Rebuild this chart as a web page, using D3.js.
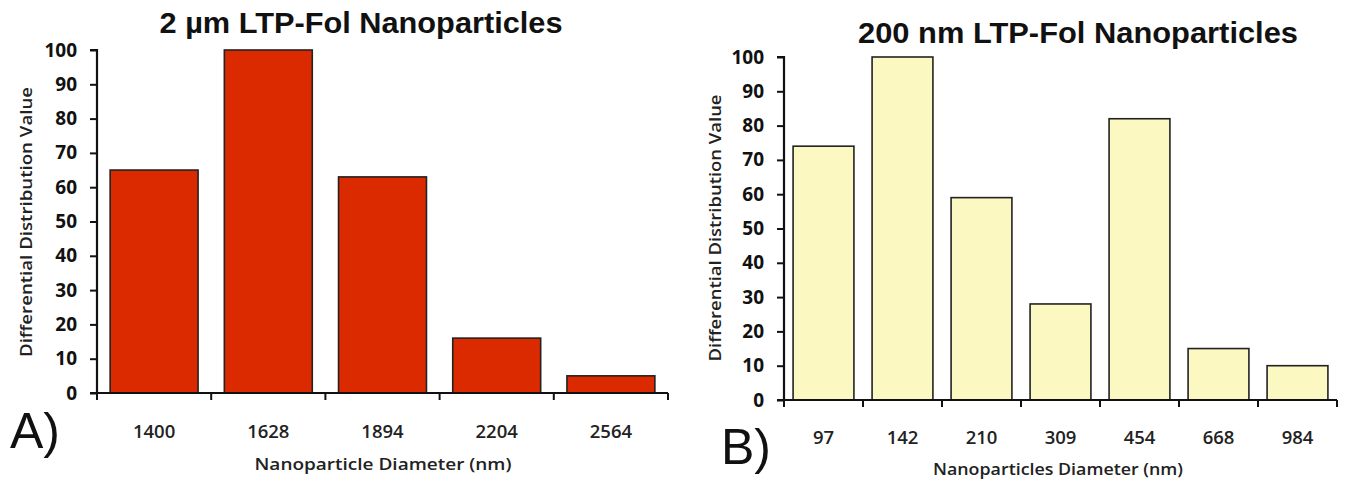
<!DOCTYPE html>
<html><head><meta charset="utf-8">
<script src="https://cdn.jsdelivr.net/npm/d3@7"></script>
<style>
body{margin:0;background:#fff;}
svg{display:block;}
.title{font-family:"Liberation Sans",Arial,sans-serif;font-weight:bold;fill:#111;}
.ytick{font-family:"Open Sans",sans-serif;font-weight:700;fill:#111;}
.xtick{font-family:"Open Sans",sans-serif;font-weight:600;fill:#222;}
.atitle{font-family:"Open Sans",sans-serif;font-weight:600;fill:#222;}
.panel{font-family:"Liberation Sans",Arial,sans-serif;fill:#111;}
</style></head>
<body>
<script>
// Panel A data
const catsA = ["1400","1628","1894","2204","2564"];
const valsA = [65,100,63,16,5];
// Panel B data
const catsB = ["97","142","210","309","454","668","984"];
const valsB = [74,100,59,28,82,15,10];
const yTicks = [0,10,20,30,40,50,60,70,80,90,100];

const titleA = "2 µm LTP-Fol Nanoparticles";
const titleB = "200 nm LTP-Fol Nanoparticles";
const xTitleA = "Nanoparticle Diameter (nm)";
const xTitleB = "Nanoparticles Diameter (nm)";
const yTitle = "Differential Distribution Value";

const svg = d3.select("body").append("svg").attr("width",1349).attr("height",483);

function panel(cfg){
  const g = svg.append("g");
  const x = d3.scaleBand().domain(cfg.cats).range([cfg.x0,cfg.x1]).paddingInner(0.23).paddingOuter(0.115);
  const y = d3.scaleLinear().domain([0,100]).range([cfg.y0,cfg.y1]);
  // bars
  g.selectAll("rect.bar").data(cfg.vals).enter().append("rect")
    .attr("x",(d,i)=>x(cfg.cats[i])).attr("width",x.bandwidth())
    .attr("y",d=>y(d)).attr("height",d=>y(0)-y(d))
    .attr("fill",cfg.color).attr("stroke","#222").attr("stroke-width",1.6);
  // y axis
  const ya = g.append("g").attr("transform",`translate(${cfg.x0},0)`)
    .call(d3.axisLeft(y).tickValues(yTicks).tickSize(7).tickPadding(13));
  ya.attr("font-size",null).attr("font-family",null);
  ya.select(".domain").attr("stroke","#111").attr("stroke-width",2.2).attr("d",`M-7,${cfg.y1}H0V${cfg.y0}`);
  ya.selectAll(".tick line").attr("stroke","#111").attr("stroke-width",2);
  ya.selectAll(".tick text").attr("class","ytick").attr("font-size",19).style("font-size","19px").attr("fill","#111");
  // x axis with boundary ticks
  const xa = g.append("g").attr("transform",`translate(0,${cfg.y0})`);
  xa.append("line").attr("x1",cfg.x0-7).attr("x2",cfg.x1).attr("y1",0).attr("y2",0).attr("stroke","#111").attr("stroke-width",2.2);
  const bounds = cfg.cats.map(c=>x(c)-x.step()*x.paddingInner()/2);
  bounds.push(cfg.x1);
  bounds[0]=cfg.x0;
  xa.selectAll("line.t").data(bounds).enter().append("line")
    .attr("x1",d=>d).attr("x2",d=>d).attr("y1",0).attr("y2",7).attr("stroke","#111").attr("stroke-width",2);
  g.selectAll("text.xl").data(cfg.cats).enter().append("text").attr("class","xtick")
    .attr("x",d=>x(d)+x.bandwidth()/2).attr("y",cfg.xlabY).attr("text-anchor","middle")
    .attr("font-size",18.5).style("font-size","18.5px").text(d=>d);
  // titles
  g.append("text").attr("class","title").attr("x",cfg.tx).attr("y",cfg.ty).attr("text-anchor","middle")
    .style("font-size","29px").attr("textLength",cfg.tlen).attr("lengthAdjust","spacingAndGlyphs").text(cfg.title);
  g.append("text").attr("class","atitle").attr("x",cfg.xtx).attr("y",cfg.xty).attr("text-anchor","middle")
    .style("font-size","17px").attr("textLength",cfg.xtlen).attr("lengthAdjust","spacingAndGlyphs").text(cfg.xTitle);
  g.append("text").attr("class","atitle").attr("transform",`translate(${cfg.ytx},${cfg.yty}) rotate(-90)`)
    .attr("text-anchor","middle").attr("dy","0.35em")
    .style("font-size","17px").attr("textLength",cfg.ytlen).attr("lengthAdjust","spacingAndGlyphs").text(yTitle);
  g.append("text").attr("class","panel").attr("x",cfg.px).attr("y",cfg.py)
    .style("font-size","50px").text(cfg.plabel);
}

panel({cats:catsA, vals:valsA, color:"#DC2A00", x0:97, x1:668, y0:393, y1:50,
  xlabY:438, title:titleA, tx:361, ty:33, tlen:403, xTitle:xTitleA, xtx:383, xty:470, xtlen:257,
  ytx:26, yty:222, ytlen:270, plabel:"A)", px:10, py:448});
panel({cats:catsB, vals:valsB, color:"#FBF8C2", x0:784, x1:1337, y0:400, y1:57,
  xlabY:444, title:titleB, tx:1078, ty:43, tlen:440, xTitle:xTitleB, xtx:1058, xty:475, xtlen:250,
  ytx:715, yty:228, ytlen:267, plabel:"B)", px:721, py:464});
</script>
</body></html>
